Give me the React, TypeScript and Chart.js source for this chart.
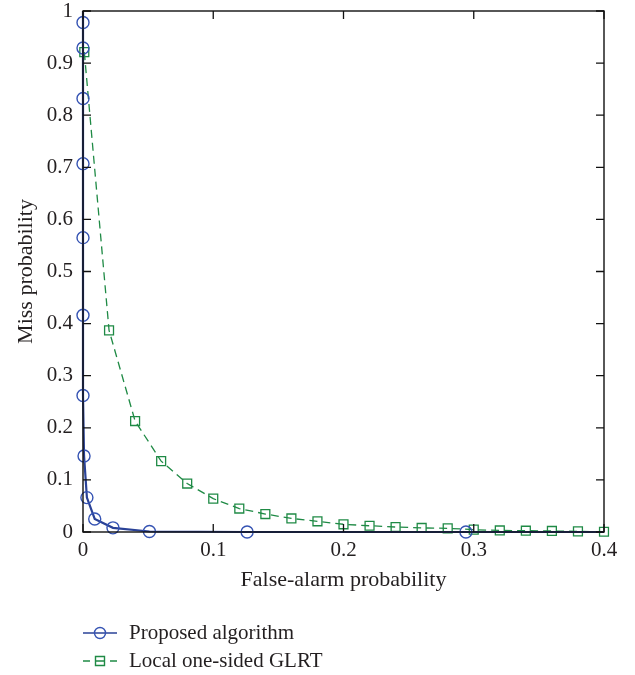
import React, { useEffect, useRef } from "react";
import { Chart, registerables } from "chart.js";

Chart.register(...registerables);

const proposedX = [0, 0, 0, 0, 0, 0, 0, 0, 0.0008, 0.003, 0.009, 0.023, 0.051, 0.126, 0.294, 0.4];
const proposedY = [1, 0.978, 0.929, 0.832, 0.707, 0.565, 0.416, 0.262, 0.146, 0.066, 0.025, 0.008, 0.001, 0.0, 0.0, 0.0];
const proposedMarker = [false, true, true, true, true, true, true, true, true, true, true, true, true, true, true, false];

const glrtX = [0.001, 0.02, 0.04, 0.06, 0.08, 0.1, 0.12, 0.14, 0.16, 0.18, 0.2, 0.22, 0.24, 0.26, 0.28, 0.3, 0.32, 0.34, 0.36, 0.38, 0.4];
const glrtY = [0.921, 0.387, 0.213, 0.136, 0.093, 0.064, 0.045, 0.0345, 0.026, 0.0205, 0.0148, 0.012, 0.0096, 0.0078, 0.007, 0.0045, 0.003, 0.0025, 0.002, 0.0012, 0.0005];

const seriesLabels = ["Proposed algorithm", "Local one-sided GLRT"];
const xTicksMax = 0.4;
const yTicksMax = 1;

const BLUE = "#2a4297";
const BLUE_MARK = "#3553b3";
const GREEN = "#1f8a45";
const TEXT = "#231f20";
const FONT = "'Liberation Serif', 'DejaVu Serif', serif";

const fmt = (v: any) => String(Number(Number(v).toFixed(1)));

const frameTicks = {
  id: "frameTicks",
  afterDatasetsDraw(chart: any) {
    const { ctx, chartArea, scales } = chart;
    const { left, right, top, bottom } = chartArea;
    ctx.save();
    ctx.strokeStyle = "#111";
    ctx.lineWidth = 1.4;
    ctx.strokeRect(left, top, right - left, bottom - top);
    ctx.lineWidth = 1.3;
    const len = 8;
    scales.x.ticks.forEach((t: any) => {
      const px = scales.x.getPixelForValue(t.value);
      ctx.beginPath();
      ctx.moveTo(px, bottom);
      ctx.lineTo(px, bottom - len);
      ctx.moveTo(px, top);
      ctx.lineTo(px, top + len);
      ctx.stroke();
    });
    scales.y.ticks.forEach((t: any) => {
      const py = scales.y.getPixelForValue(t.value);
      ctx.beginPath();
      ctx.moveTo(left, py);
      ctx.lineTo(left + len, py);
      ctx.moveTo(right, py);
      ctx.lineTo(right - len, py);
      ctx.stroke();
    });
    ctx.restore();
  },
};

const customLegend = {
  id: "customLegend",
  afterDraw(chart: any) {
    const { ctx, chartArea } = chart;
    const x0 = chartArea.left;
    const rows = [633, 661];
    ctx.save();
    ctx.font = `21px ${FONT}`;
    ctx.textBaseline = "middle";
    ctx.textAlign = "left";
    chart.data.datasets.forEach((ds: any, i: number) => {
      const y = rows[i];
      const cx = x0 + 17;
      ctx.strokeStyle = ds.borderColor;
      ctx.lineWidth = i === 0 ? 1.6 : 1.3;
      ctx.beginPath();
      if (i === 0) {
        ctx.moveTo(x0, y);
        ctx.lineTo(x0 + 34, y);
      } else {
        ctx.moveTo(x0, y);
        ctx.lineTo(x0 + 7, y);
        ctx.moveTo(x0 + 27, y);
        ctx.lineTo(x0 + 34, y);
      }
      ctx.stroke();
      ctx.strokeStyle = ds.pointBorderColor;
      ctx.lineWidth = 1.4;
      ctx.beginPath();
      if (i === 0) {
        ctx.arc(cx, y, 5.5, 0, Math.PI * 2);
        ctx.stroke();
      } else {
        ctx.rect(cx - 4.5, y - 4.5, 9, 9);
        ctx.moveTo(cx - 4.5, y);
        ctx.lineTo(cx + 4.5, y);
        ctx.stroke();
      }
      ctx.fillStyle = TEXT;
      ctx.fillText(ds.label, x0 + 46, y);
    });
    ctx.restore();
  },
};

export default function App() {
  const ref = useRef<HTMLCanvasElement | null>(null);
  useEffect(() => {
    if (!ref.current) return;
    const chart = new Chart(ref.current, {
      type: "line",
      data: {
        datasets: [
          {
            label: seriesLabels[0],
            data: proposedX.map((x, i) => ({ x, y: proposedY[i] })),
            borderColor: BLUE,
            borderWidth: 2.2,
            pointStyle: "circle",
            pointRadius: proposedMarker.map((m) => (m ? 6 : 0)),
            pointBorderColor: BLUE_MARK,
            pointBackgroundColor: "rgba(0,0,0,0)",
            pointBorderWidth: 1.4,
            tension: 0,
            clip: false,
          } as any,
          {
            label: seriesLabels[1],
            data: glrtX.map((x, i) => ({ x, y: glrtY[i] })),
            borderColor: GREEN,
            borderWidth: 1.3,
            borderDash: [8, 5],
            pointStyle: "rect",
            pointRadius: 6.3,
            pointBorderColor: GREEN,
            pointBackgroundColor: "rgba(0,0,0,0)",
            pointBorderWidth: 1.3,
            tension: 0,
            clip: false,
          } as any,
        ],
      },
      options: {
        animation: false,
        responsive: false,
        devicePixelRatio: 1,
        layout: { padding: { top: 11, right: 31, bottom: 73, left: 0 } },
        plugins: { legend: { display: false }, tooltip: { enabled: false } },
        scales: {
          x: {
            type: "linear",
            min: 0,
            max: xTicksMax,
            ticks: {
              stepSize: 0.1,
              color: TEXT,
              font: { family: FONT, size: 21 },
              padding: 6,
              callback: fmt,
            },
            grid: { display: false, drawTicks: false },
            border: { display: false },
            title: {
              display: true,
              text: "False-alarm probability",
              color: TEXT,
              font: { family: FONT, size: 22 },
              padding: { top: 0, bottom: 9 },
            },
            afterFit: (s: any) => {
              s.height = 70;
              s.paddingLeft = 0;
              s.paddingRight = 0;
            },
          },
          y: {
            type: "linear",
            min: 0,
            max: yTicksMax,
            ticks: {
              stepSize: 0.1,
              color: TEXT,
              font: { family: FONT, size: 21 },
              padding: 10,
              callback: fmt,
            },
            grid: { display: false, drawTicks: false },
            border: { display: false },
            title: {
              display: true,
              text: "Miss probability",
              color: TEXT,
              font: { family: FONT, size: 22 },
              padding: { top: 13, bottom: 0 },
            },
            afterFit: (s: any) => {
              s.width = 83;
              s.paddingTop = 0;
              s.paddingBottom = 0;
            },
          },
        },
      },
      plugins: [frameTicks, customLegend],
    });
    return () => chart.destroy();
  }, []);
  return (
    <div style={{ position: "absolute", left: 0, top: 0, width: 635, height: 675, background: "#fff" }}>
      <canvas ref={ref} width={635} height={675} />
    </div>
  );
}
